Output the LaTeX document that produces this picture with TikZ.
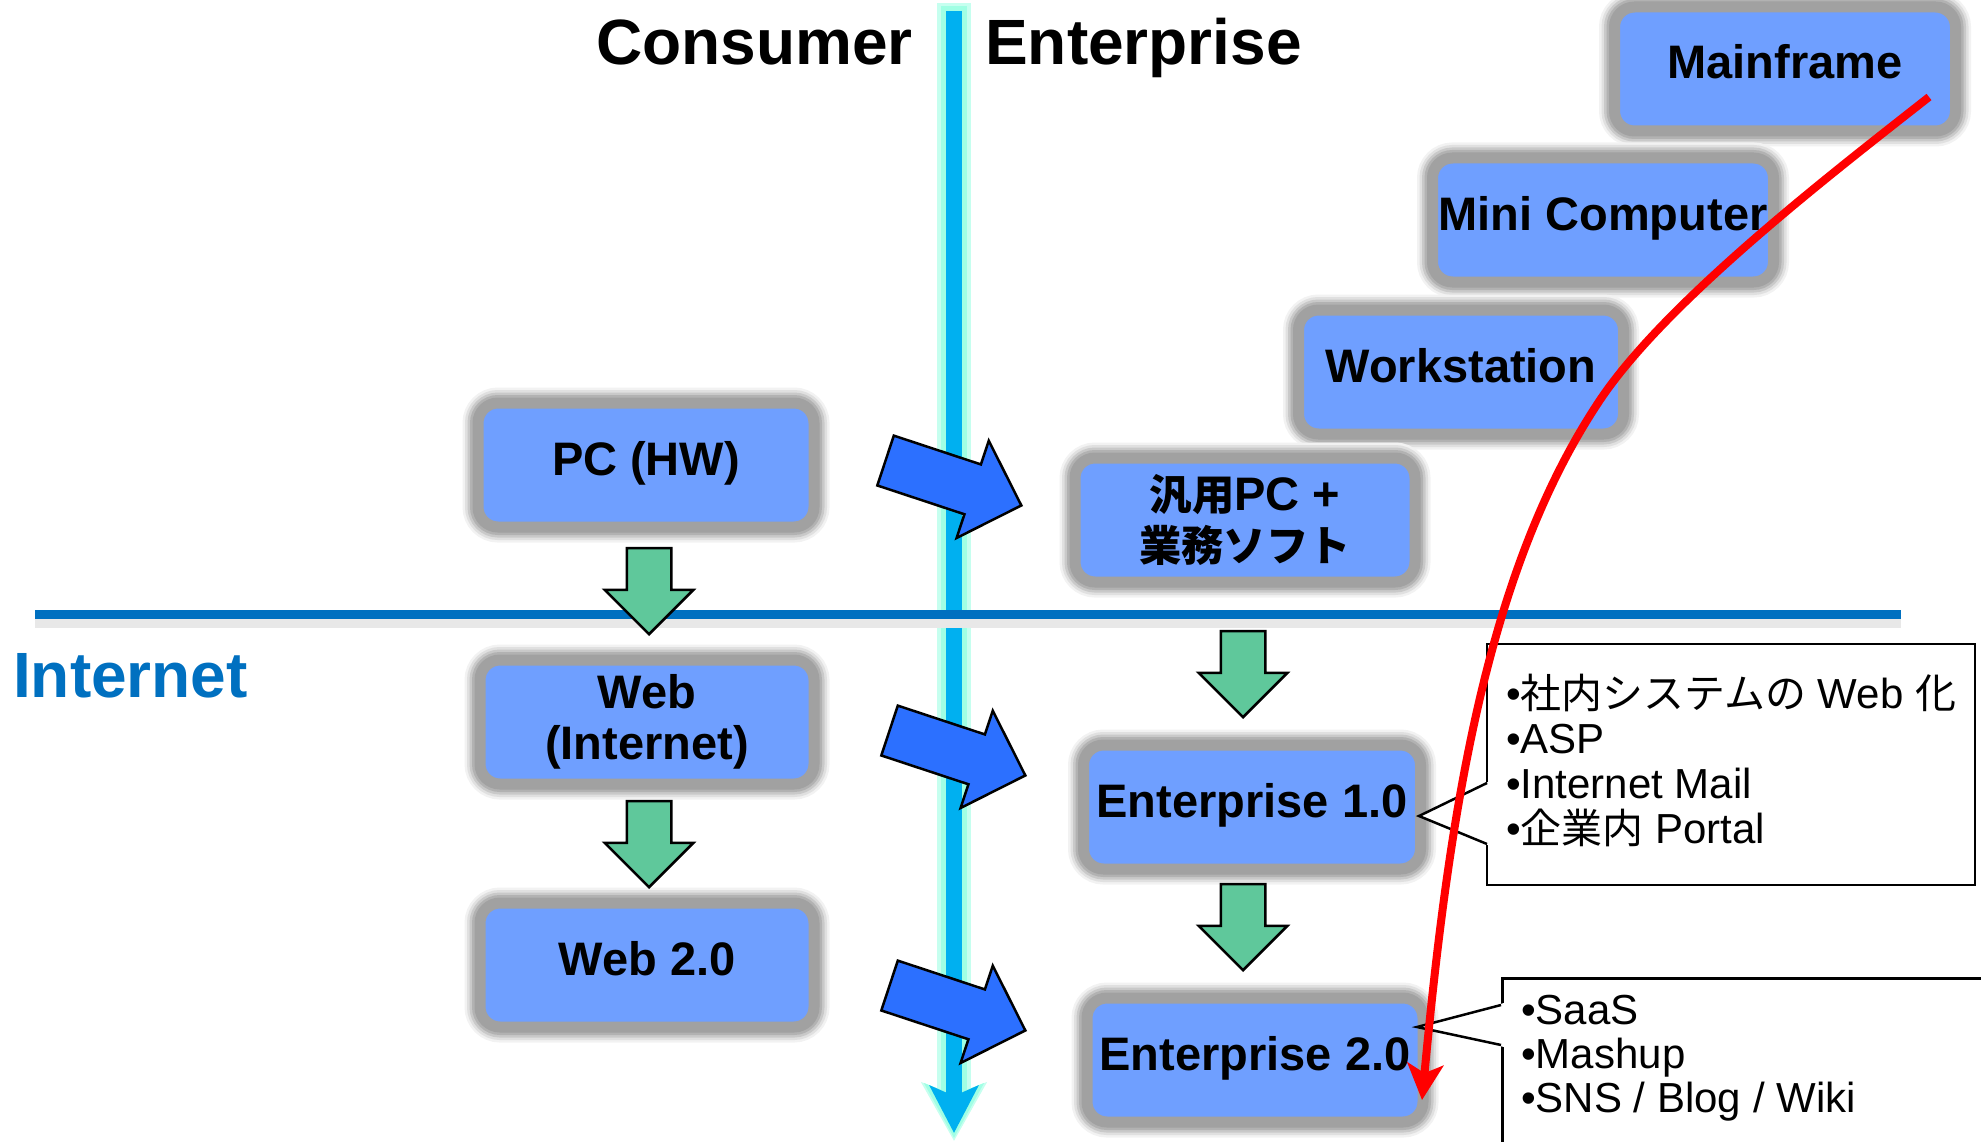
\documentclass[tikz,border=0pt]{standalone}
\usepackage{fontspec}
\setmainfont{Liberation Sans}
\newfontfamily\jpfont[Scale=0.975]{Noto Sans CJK JP}
\newfontfamily\jpboxfont[Scale=0.9]{Noto Sans CJK JP}
\usetikzlibrary{arrows.meta,shapes.arrows}
\definecolor{boxblue}{RGB}{111,159,255}
\definecolor{arrblue}{RGB}{44,112,255}
\definecolor{downgreen}{RGB}{95,200,155}
\definecolor{timecyan}{RGB}{0,176,240}
\definecolor{glowcyan}{RGB}{160,255,228}
\definecolor{netblue}{RGB}{0,112,192}
\tikzset{
  sysbox/.style={rectangle, rounded corners=20pt, fill=boxblue, draw=black!37, line width=11pt,
    preaction={draw=black!5, line width=31pt},
    preaction={draw=black!12, line width=26pt},
    preaction={draw=black!21, line width=21pt},
    preaction={draw=black!30, line width=16pt},
    minimum width=336pt, minimum height=124pt, inner sep=0pt,
    font=\fontsize{47}{51}\selectfont\bfseries},
  oneline/.style={text height=34pt, text depth=14pt},
  downarr/.style={single arrow, fill=downgreen, draw=black, line width=2.5pt,
    single arrow head extend=22pt, single arrow tip angle=90,
    text height=21pt, text depth=21pt, inner sep=0pt,
    minimum height=86pt, minimum width=86pt, rotate=-90, anchor=tip},
  rightarr/.style={single arrow, fill=arrblue, draw=black, line width=2.5pt,
    single arrow head extend=25pt, single arrow tip angle=90,
    text height=25pt, text depth=25pt, inner sep=0pt,
    minimum height=143pt, minimum width=100pt, rotate=-18.3, anchor=tip},
  notebox/.style={rectangle, draw=black, line width=2.5pt, fill=white,
    font=\fontsize{42}{45}\selectfont},
  title/.style={inner sep=0pt, font=\fontsize{64}{70}\selectfont\bfseries}
}
\begin{document}
\begin{tikzpicture}[x=1pt,y=-1pt]
\clip (0,0) rectangle (1981,1142);
%draw the lines
%time line
\coordinate (timetop) at (954,11);
\coordinate (timeend) at (954,1133);
\draw[glowcyan!60, line width=34pt, -{Stealth[width=64pt,length=58pt,inset=12pt]}] (954,3) -- (954,1141);
\draw[glowcyan, line width=26pt, -{Stealth[width=58pt,length=54pt,inset=11pt]}] (954,6) -- (954,1138);
\draw[timecyan, line width=16pt, -{Stealth[width=48pt,length=47pt,inset=10pt]}] (timetop) -- (timeend);
%internet line
\coordinate (netleft) at (35,614);
\coordinate (netright) at (1901,614);
\draw[black!9, line width=9pt] (35,623) -- (1901,623);
\draw[netblue, line width=9pt] (netleft) -- (netright);

%put boxes
%Enterprise side
\node[sysbox, oneline, minimum width=341pt] (mainfr) at (1785,69) {Mainframe};
\node[sysbox, oneline, minimum width=341pt] (minicomp) at (1603,220) {Mini Computer};
\node[sysbox, oneline, minimum width=325pt] (wkstn) at (1461,372) {Workstation};
\node[sysbox, align=center, minimum width=340pt] (pcsoft) at (1245,520) {{\jpboxfont 汎用}PC +\\{\jpboxfont 業務ソフト}};
\node[sysbox, oneline, minimum width=337pt] (entone) at (1252,807) {Enterprise 1.0};
\node[sysbox, oneline] (enttwo) at (1255,1060) {Enterprise 2.0};
%Consumer side
\node[sysbox, oneline] (pchw) at (646,465) {PC (HW)};
\node[sysbox, align=center, minimum width=334pt] (webone) at (647,722) {Web\\(Internet)};
\node[sysbox, oneline, minimum width=334pt] (webtwo) at (647,965) {Web 2.0};

%down arrows
\node[downarr] (dnpc) at (649,636) {};
\node[downarr] (dnweb) at (649,889) {};
\node[downarr] (dnsoft) at (1243,719) {};
\node[downarr] (dnent) at (1243,972) {};
%right arrows
\node[rightarr] (rtpc) at (1023,506) {};
\node[rightarr] (rtweb) at (1027,776) {};
\node[rightarr] (rtwebtwo) at (1027,1031) {};

%labels
\node[title, anchor=base east] (consumer) at (913,65) {Consumer};
\node[title, anchor=base west] (enterprise) at (985,65) {Enterprise};
\node[title, anchor=base west, text=netblue] (internet) at (13,697) {Internet};

%notes
\node[notebox, inner xsep=0pt, inner ysep=24pt, minimum width=488pt, text height=40pt, text depth=153pt] (noteone) at (1731,764.5)
  {\vtop{\hbox{•{\jpfont 社内システムの} Web {\jpfont 化}}\hbox{•ASP}\hbox{•Internet Mail}\hbox{•{\jpfont 企業内} Portal}}};
\coordinate (tipone) at (1419,816);
\fill[white] (1490,781) -- (tipone) -- (1490,846) -- cycle;
\draw[line width=2.5pt] (1487,783) -- (tipone) -- (1487,844);
\node[notebox, anchor=north west, inner xsep=19pt, inner ysep=17pt, font=\fontsize{42}{44}\selectfont] (notetwo) at (1501,977)
  {\parbox[t][260pt][t]{560pt}{•SaaS\\•Mashup\\•SNS / Blog / Wiki}};
\coordinate (tiptwo) at (1417,1027);
\fill[white] (1504,1003) -- (tiptwo) -- (1504,1047) -- cycle;
\draw[line width=2.5pt] (1501,1005) -- (tiptwo) -- (1501,1045);

%red curve
\coordinate (redfrom) at (1929,97);
\coordinate (redto) at (1422,1100);
\draw[red, line width=8pt, -{Stealth[width=36pt,length=36pt,inset=9pt]}] (redfrom)
  .. controls (1835,171) and (1667,300) .. (1600,400)
  .. controls (1489,566) and (1450,801) .. (redto);
\end{tikzpicture}
\end{document}
